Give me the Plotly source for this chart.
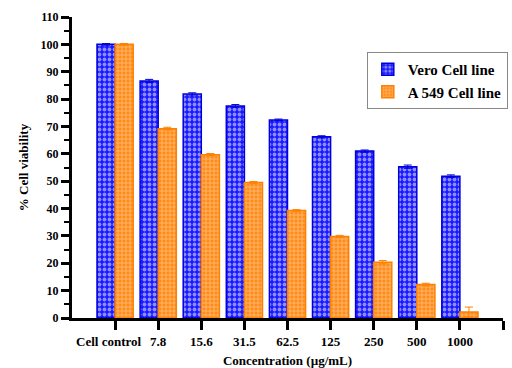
import plotly.graph_objects as go

categories = ["Cell control", "7.8", "15.6", "31.5", "62.5", "125", "250", "500", "1000"]
vero = [100, 86.6, 81.9, 77.5, 72.4, 66.2, 61.0, 55.3, 51.8]
vero_err = [0.3, 0.6, 0.4, 0.5, 0.3, 0.4, 0.4, 0.6, 0.5]
a549 = [100, 69.2, 59.7, 49.5, 39.3, 29.8, 20.4, 12.2, 2.2]
a549_err = [0.3, 0.5, 0.4, 0.4, 0.3, 0.4, 0.6, 0.5, 1.8]

xpos = list(range(len(categories)))
serif = "Liberation Serif"
ticktext = ["<b>%s</b>" % c for c in categories] + [""]
ticktext[0] = "<b>Cell control</b>\u00a0\u00a0\u00a0\u00a0"

fig = go.Figure()
fig.add_trace(go.Bar(
    x=xpos, y=vero, name="<b>Vero Cell line</b>",
    marker=dict(color="#1a1aff", line=dict(color="#0000dd", width=1.5),
                pattern=dict(shape=".", fgcolor="white", bgcolor="#1a1aff", size=5, solidity=0.45)),
    error_y=dict(type="data", array=vero_err, visible=True, color="#0000dd", thickness=1, width=4),
))
fig.add_trace(go.Bar(
    x=xpos, y=a549, name="<b>A 549 Cell line</b>",
    marker=dict(color="#ff8c1a", line=dict(color="#ff8000", width=1.5),
                pattern=dict(shape="+", fgcolor="white", bgcolor="#ff8c1a", size=4, solidity=0.3)),
    error_y=dict(type="data", array=a549_err, visible=True, color="#ff8000", thickness=1, width=4),
))

fig.update_layout(
    width=512, height=368,
    margin=dict(l=72, r=9, t=17, b=50, autoexpand=False),
    plot_bgcolor="white", paper_bgcolor="white",
    barmode="group", bargap=0.16, bargroupgap=0,
    font=dict(family=serif, size=12, color="black"),
    legend=dict(x=0.684, y=0.884, xanchor="left", yanchor="top",
                bgcolor="white", bordercolor="#888888", borderwidth=1,
                font=dict(family=serif, size=15, color="black"),
                tracegroupgap=0, itemwidth=30),
    xaxis=dict(
        range=[-1, len(categories)],
        tickvals=list(range(len(categories) + 1)),
        ticktext=ticktext,
        tickangle=0,
        ticks="outside", ticklen=9, tickwidth=3, tickcolor="black",
        showline=True, linewidth=3, linecolor="black",
        showgrid=False, zeroline=False,
        tickfont=dict(family=serif, size=13),
        title=dict(text="<b>Concentration (µg/mL)</b>", font=dict(family=serif, size=13), standoff=9),
    ),
    yaxis=dict(
        range=[0, 110], dtick=10, tick0=0,
        ticks="outside", ticklen=8, tickwidth=3, tickcolor="black",
        minor=dict(dtick=5, ticks="outside", ticklen=5, tickwidth=2, tickcolor="black"),
        showline=True, linewidth=3, linecolor="black",
        showgrid=False, zeroline=False,
        tickfont=dict(family=serif, size=12),
        tickprefix="<b>", ticksuffix="</b>",
        title=dict(text="<b>% Cell viability</b>", font=dict(family=serif, size=13), standoff=10),
    ),
)

fig.write_html("out.html", config={"displayModeBar": False},
               post_script="document.body.style.margin='0px';document.body.style.overflow='hidden';")
